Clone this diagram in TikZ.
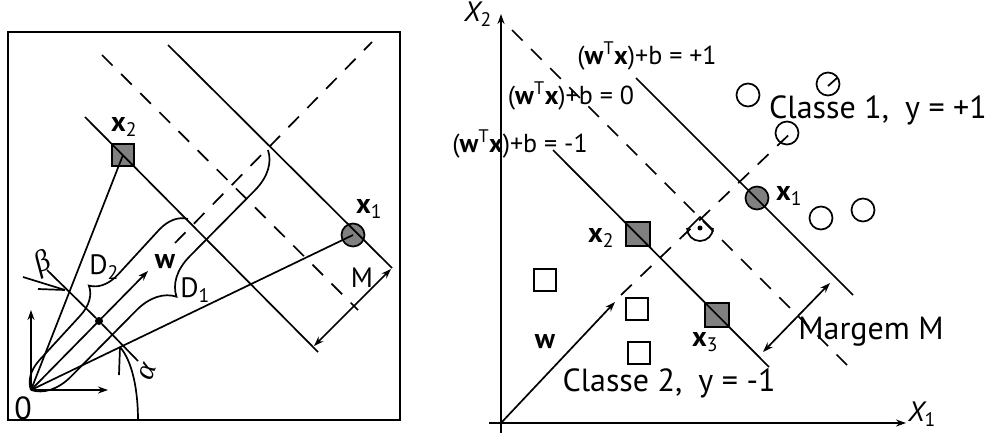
\documentclass[tikz,border=0pt]{standalone}
\usepackage{fontspec}
\setmainfont{PT Sans}
\newfontfamily\grk{Liberation Serif}
\usetikzlibrary{arrows.meta,decorations.pathreplacing}
\begin{document}
\begin{tikzpicture}[x=1pt,y=-1pt,
  ln/.style={line width=1.7pt},
  dsh/.style={line width=1.7pt, dash pattern=on 15pt off 12pt},
  arr/.style={-{Stealth[length=10pt,width=7pt]}},
  darr/.style={{Stealth[length=10pt,width=7pt]}-{Stealth[length=10pt,width=7pt]}},
  fsq/.style={draw, line width=1.7pt, fill=black!50, minimum size=22pt, inner sep=0pt},
  fci/.style={draw, line width=1.7pt, fill=black!50, circle, minimum size=23pt, inner sep=0pt},
  osq/.style={draw, line width=1.9pt, minimum size=22pt, inner sep=0pt},
  oci/.style={draw, line width=1.7pt, circle, minimum size=23pt, inner sep=0pt},
  lbl/.style={font=\fontsize{28}{30}\selectfont, inner sep=0pt},
  eqn/.style={font=\fontsize{26}{28}\selectfont, inner sep=0pt},
  big/.style={font=\fontsize{32}{34}\selectfont, inner sep=0pt},
  grl/.style={font=\fontsize{30}{30}\selectfont\grk\itshape, inner sep=0pt},
  brc/.style={ln, decorate, decoration={brace, amplitude=#1}}
]
\useasboundingbox (0,0) rectangle (987,436);
% ================= left panel =================
\draw[line width=1.5pt] (8,32) rectangle (400,420);
\coordinate (O) at (31,390);
\coordinate (Wt) at (148,271);
\coordinate (Ws) at (175,243);
\coordinate (We) at (372,42);
\node[fsq] (X2) at (123,155) {};
\node[fci] (X1) at (353,235) {};
\node[circle, fill, minimum size=8pt, inner sep=0pt] (dot) at (99,321) {};
% axes
\draw[ln,arr] (O) -- (31,310);
\draw[ln,arr] (O) -- (108,390);
% hyperplanes
\draw[ln] (85,117) -- (318,352);
\draw[dsh] (102,55) -- (358,310);
\draw[ln] (168,45) -- (392,268);
% w direction
\draw[ln,arr] (O) -- (Wt);
\draw[dsh] (Ws) -- (We);
% lines to points
\draw[ln] (O) -- (X2.center);
\draw[ln] (O) -- (X1.center);
% perpendicular through the dot
\coordinate (P1) at (47,270);
\coordinate (P2) at (138,361);
\draw[ln] (P1) -- (dot) -- (P2);
% beta arrow
\coordinate (Bt) at (65,290);
\draw[ln] (23,277) -- (Bt);
\draw[ln] (38,289) -- (Bt);
% alpha arc
\coordinate (At) at (120,347);
\draw[ln] (138,420) .. controls (138,392) and (133,362) .. (At);
\draw[ln] (At) -- (119,375);
% braces
\draw[brc=28pt] (O) -- (188,219);
\draw[brc=38pt, decoration={mirror}] (O) -- (268,150);
% margin
\draw[ln,darr] (314,346) -- (391,269);
% labels
\node[lbl] (lx2) at (124,127) {\textbf{x}\textsubscript{2}};
\node[lbl] (lx1) at (369,209) {\textbf{x}\textsubscript{1}};
\node[lbl] (lD2) at (104,267) {D\textsubscript{2}};
\node[lbl] (lD1) at (195,290) {D\textsubscript{1}};
\node[lbl] (lw) at (165,262) {\textbf{w}};
\node[lbl] (lM) at (362,278) {M};
\node[font=\fontsize{32}{32}\selectfont, inner sep=0pt] (l0) at (23,408) {0};
\node[grl, rotate=25] (lb) at (43,264) {β};
\node[grl, rotate=70] (la) at (148,372) {α};
% ================= right panel =================
\coordinate (R0) at (501,423);
\draw[ln,arr] (501,433) -- (501,14);
\draw[ln,arr] (489,423) -- (906,423);
\node[font=\fontsize{28}{30}\selectfont\itshape, inner sep=0pt] (lX2) at (478,14) {X\textsubscript{\upshape 2}};
\node[font=\fontsize{28}{30}\selectfont\itshape, inner sep=0pt] (lX1) at (922,414) {X\textsubscript{\upshape 1}};
% points
\node[fsq, minimum size=24pt] (Q2) at (638,234) {};
\node[fsq, minimum size=24pt] (Q3) at (717,315) {};
\node[fci] (C1) at (757,198) {};
\node[oci] (c1) at (748,95) {};
\node[oci] (c2) at (828,84) {};
\node[oci] (c3) at (787,133) {};
\node[oci] (c4) at (821,218) {};
\node[oci] (c5) at (863,210) {};
\node[osq] (s1) at (545,280) {};
\node[osq] (s2) at (637,309) {};
\node[osq] (s3) at (639,353) {};
\draw[ln] (c2.center) ++(0,2) -- ++(9,-8);
% hyperplanes
\draw[ln] (553,150) -- (769,367);
\draw[dsh] (512,30) -- (847,365);
\draw[ln] (636,78) -- (853,295);
% w
\draw[ln,arr] (R0) -- (615,302);
\draw[dsh] (621,295) -- (797,127);
% right angle marker
\coordinate (I) at (700,217);
\draw[ln] (688,229) -- (I) -- (712,229);
\draw[ln] (687,228) arc[start angle=180, end angle=0, radius=13];
\node[circle, fill, minimum size=5pt, inner sep=0pt] (rd) at (700,228) {};
% margin
\draw[ln,darr] (763,352) -- (830,283);
% labels
\node[eqn] (e1) at (647,56) {(\textbf{w}\textsuperscript{T}\textbf{x})+b = +1};
\node[eqn] (e0) at (571,96) {(\textbf{w}\textsuperscript{T}\textbf{x})+b = 0};
\node[eqn] (em) at (520,144) {(\textbf{w}\textsuperscript{T}\textbf{x})+b = -1};
\node[big] (k1) at (878,110) {Classe 1,\enspace y = +1};
\node[big] (k2) at (669,383) {Classe 2,\enspace y = -1};
\node[big] (mg) at (871,332) {Margem M};
\node[lbl] (rx1) at (789,196) {\textbf{x}\textsubscript{1}};
\node[lbl] (rx2) at (601,238) {\textbf{x}\textsubscript{2}};
\node[lbl] (rx3) at (705,342) {\textbf{x}\textsubscript{3}};
\node[lbl] (rw) at (545,342) {\textbf{w}};
\end{tikzpicture}
\end{document}
